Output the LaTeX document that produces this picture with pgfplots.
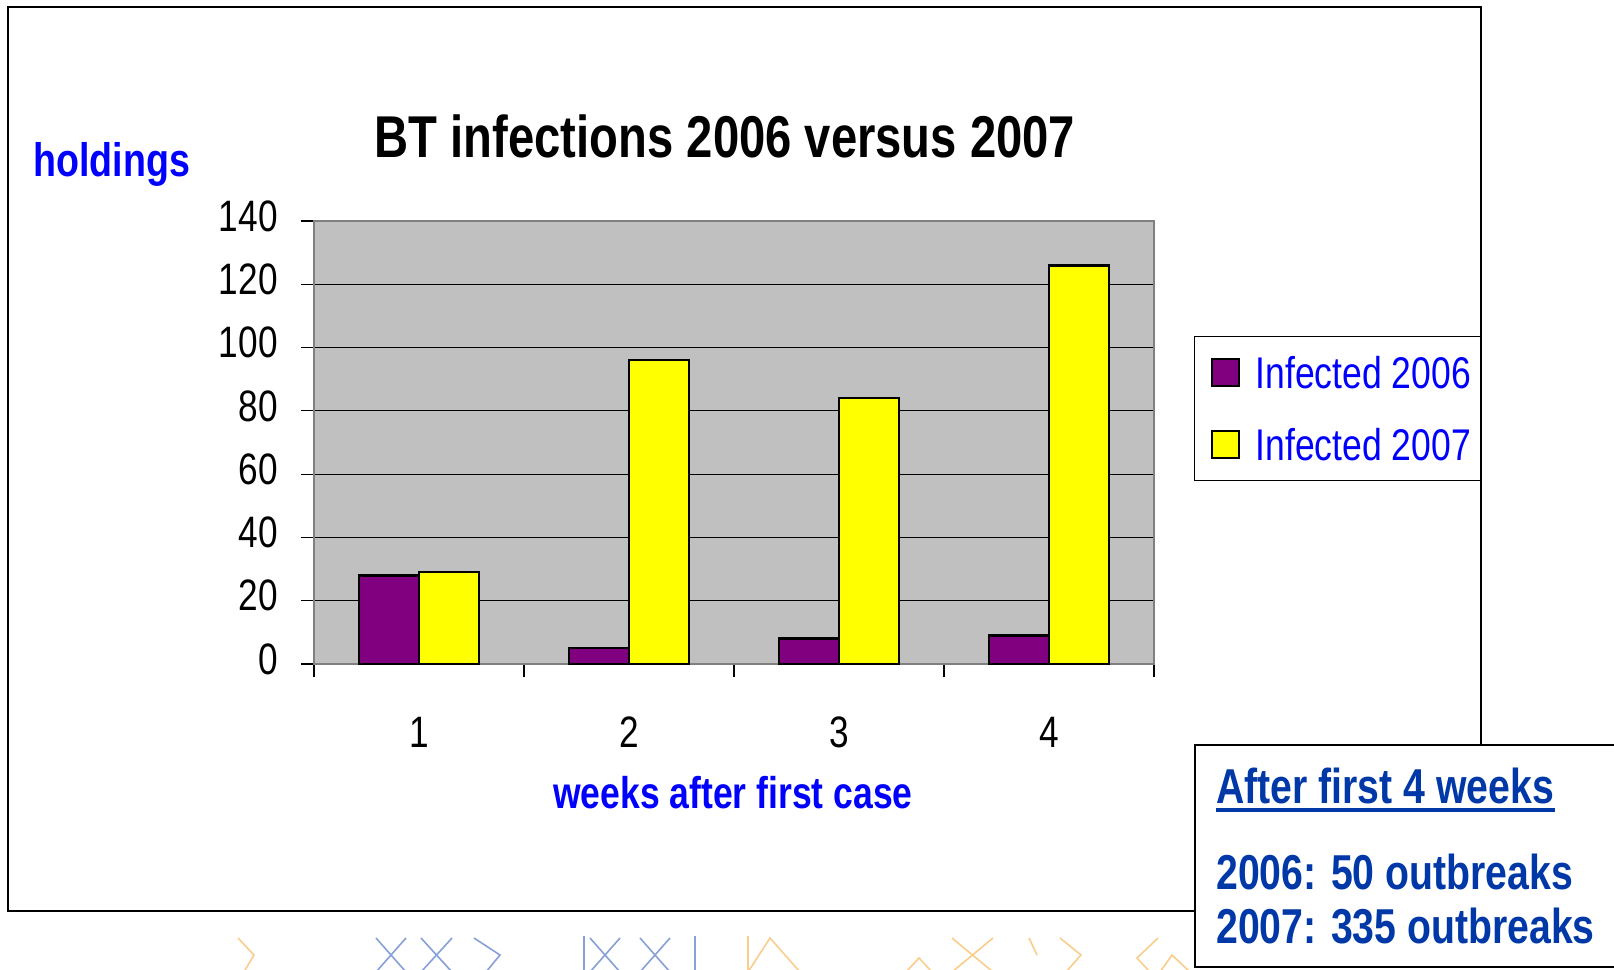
\documentclass[border=0pt]{standalone}
\usepackage{fontspec}
\setmainfont{Liberation Sans}[FakeStretch=0.8]
\usepackage{pgfplots}
\pgfplotsset{compat=1.18}
\definecolor{plotgray}{RGB}{192,192,192}
\definecolor{framegray}{RGB}{128,128,128}
\definecolor{bpurple}{RGB}{128,0,128}
\definecolor{byellow}{RGB}{255,255,0}
\definecolor{lblue}{RGB}{0,0,255}
\definecolor{boxblue}{RGB}{0,56,168}
\definecolor{decoorange}{RGB}{250,205,140}
\definecolor{decoblue}{RGB}{135,160,215}
\begin{document}
\begin{tikzpicture}[x=0.5pt,y=-0.5pt]
\useasboundingbox (0,0) rectangle (1614,970);
\clip (0,0) rectangle (1614,970);
\fill[white] (0,0) rectangle (1614,970);
% background decorations
\begin{scope}[line width=0.8pt]
\draw[decoorange] (238,938) -- (254,955) -- (244,972);
\draw[decoblue] (376,938) -- (406,972) (406,938) -- (376,972);
\draw[decoblue] (421,938) -- (452,972) (452,938) -- (421,972);
\draw[decoblue] (474,938) -- (500,955) -- (486,972);
\draw[decoblue] (584,936) -- (584,972) (590,938) -- (620,972) (620,938) -- (590,972);
\draw[decoblue] (640,938) -- (670,972) (670,938) -- (640,972) (695,936) -- (695,972);
\draw[decoorange] (748,936) -- (748,972) (748,972) -- (770,938) -- (800,972);
\draw[decoorange] (906,972) -- (919,958) -- (932,972);
\draw[decoorange] (952,938) -- (993,972) (993,938) -- (952,972);
\draw[decoorange] (1029,938) -- (1037,955) (1060,938) -- (1081,955) -- (1066,972);
\draw[decoorange] (1158,938) -- (1137,958) -- (1150,972) (1160,972) -- (1172,955) -- (1190,972);
\end{scope}
% outer frame
\draw[line width=1pt] (8,7) rectangle (1481,911);
\begin{axis}[
  at={(157pt,-332pt)}, anchor=south west,
  scale only axis, width=420pt, height=221.5pt,
  xmin=0.5, xmax=4.5, ymin=0, ymax=140,
  ytick={0,20,...,140},
  xtick={0.5,1.5,2.5,3.5,4.5}, xticklabels={},
  extra x ticks={1,2,3,4}, extra x tick labels={1,2,3,4},
  extra x tick style={major tick length=0pt, grid=none,
     tick label style={anchor=center, yshift=-34pt}},
  tick pos=left, tick align=outside,
  major tick length=6.5pt,
  tick style={black, line width=0.6pt},
  ymajorgrids, major grid style={black, line width=0.5pt},
  axis background/.style={fill=plotgray},
  axis line style={framegray, line width=1pt},
  /pgf/number format/assume math mode=true,
  ticklabel style={font=\fontsize{22}{22}\selectfont},
  yticklabel style={anchor=east, inner sep=0pt, xshift=-11.5pt, yshift=2.5pt},
  ybar, bar width=0.2857,
  legend style={at={(1.0476,0.740)}, anchor=north west, draw=black,
     line width=0.5pt, fill=white,
     font=\fontsize{22.2}{22}\selectfont, text=lblue,
     inner xsep=5pt, inner ysep=10pt, row sep=20pt, column sep=8pt,
     nodes={inner sep=0pt, text height=16pt, text depth=0pt}},
  legend cell align=left,
  sq/.style={legend image code/.code={\path (-3pt,0pt); \draw[##1, line width=1pt] (0pt,-6.75pt) rectangle (13.5pt,6.75pt);}},
]
\addplot[fill=bpurple, draw=black, line width=1.2pt, bar shift=-0.1429, sq]
  coordinates {(1,28) (2,5) (3,8) (4,9)};
\addplot[fill=byellow, draw=black, line width=1.2pt, bar shift=0.1429, sq]
  coordinates {(1,29) (2,96) (3,84) (4,126)};
\legend{Infected 2006, Infected 2007}
\end{axis}
% texts
\node[anchor=base, inner sep=0pt, font=\bfseries\fontsize{29.5}{30}\selectfont] at (725,157) {BT infections 2006 versus 2007};
\node[anchor=base west, inner sep=0pt, text=lblue, font=\bfseries\fontsize{23.5}{24}\selectfont] at (33,176) {holdings};
\node[anchor=base, inner sep=0pt, text=lblue, font=\bfseries\fontsize{22.2}{22}\selectfont] at (733,808) {weeks after first case};
% info box
\draw[line width=1.2pt, fill=white] (1195,745) rectangle (1650,967);
\begin{scope}[every node/.style={anchor=base west, inner sep=0pt, text=boxblue, font=\bfseries\fontsize{24.5}{25}\selectfont}]
\node (t1) at (1216,803) {After first 4 weeks};
\node at (1216,889) {2006: 50 outbreaks};
\node at (1216,943) {2007: 335 outbreaks};
\end{scope}
\draw[boxblue, line width=2pt] ([yshift=-3.5pt]t1.base west) -- ([yshift=-3.5pt]t1.base east);
\end{tikzpicture}
\end{document}
